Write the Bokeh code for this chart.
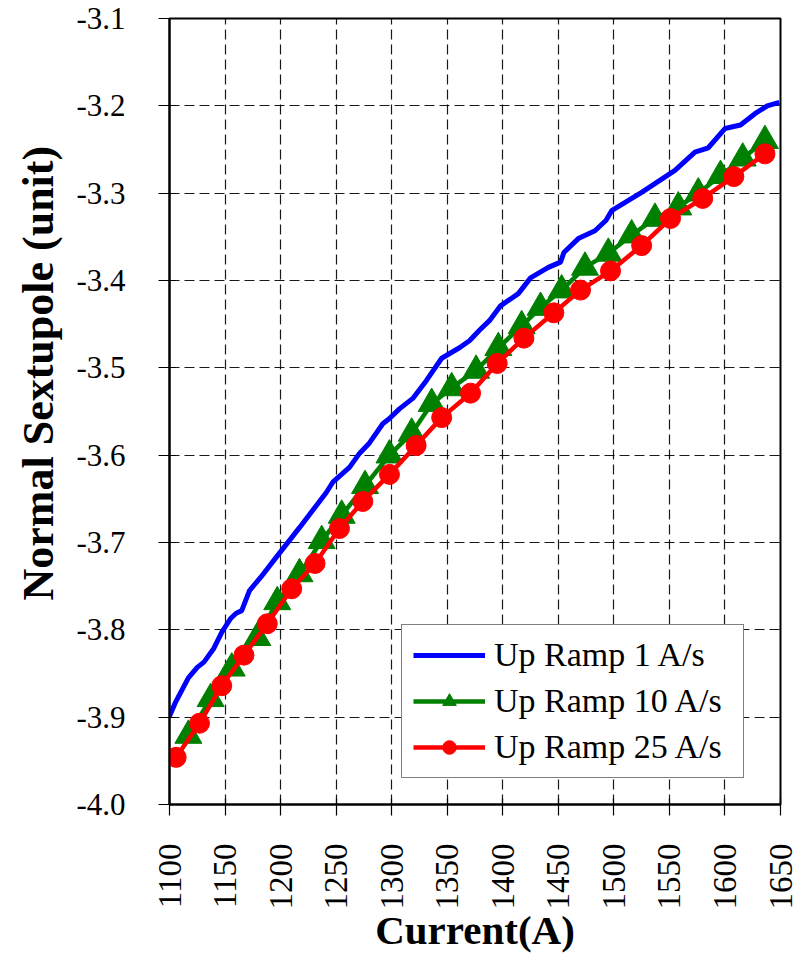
import math
from bokeh.plotting import figure
from bokeh.models import Range1d, FixedTicker, PrintfTickFormatter, Legend, LegendItem, Title
from bokeh.embed import file_html
from bokeh.resources import INLINE

# Up Ramp 1 A/s
ramp1_current = [1100, 1105, 1112, 1117, 1125, 1131, 1140, 1147, 1155, 1160, 1165, 1172,
                 1182, 1196, 1217, 1241, 1247, 1262, 1271, 1280, 1292, 1298, 1307, 1319,
                 1331, 1345, 1361, 1370, 1379, 1388, 1398, 1414, 1425, 1441, 1452, 1455,
                 1468, 1483, 1493, 1498, 1525, 1555, 1573, 1585, 1600, 1614, 1627, 1638, 1649]
ramp1_sext = [-3.899, -3.884, -3.867, -3.855, -3.843, -3.837, -3.821, -3.803, -3.787, -3.781,
              -3.778, -3.755, -3.740, -3.717, -3.683, -3.643, -3.631, -3.614, -3.598, -3.586,
              -3.564, -3.558, -3.547, -3.535, -3.515, -3.489, -3.477, -3.469, -3.457, -3.446,
              -3.429, -3.415, -3.397, -3.385, -3.379, -3.368, -3.352, -3.343, -3.331, -3.320,
              -3.299, -3.274, -3.253, -3.248, -3.226, -3.222, -3.209, -3.200, -3.196]

# Up Ramp 10 A/s
ramp10_current = [1117, 1137, 1156, 1179, 1197, 1217, 1237, 1255, 1276, 1298, 1318, 1336,
                  1354, 1376, 1396, 1417, 1434, 1453, 1474, 1495, 1516, 1537, 1558, 1576,
                  1596, 1616, 1636]
ramp10_sext = [-3.921, -3.879, -3.844, -3.809, -3.768, -3.736, -3.698, -3.669, -3.635, -3.600,
               -3.575, -3.541, -3.523, -3.503, -3.477, -3.452, -3.431, -3.411, -3.385, -3.369,
               -3.348, -3.329, -3.316, -3.300, -3.280, -3.260, -3.240]

# Up Ramp 25 A/s
ramp25_current = [1106, 1127, 1147, 1167, 1188, 1210, 1231, 1253, 1274, 1298, 1322, 1345,
                  1371, 1395, 1419, 1446, 1470, 1497, 1525, 1551, 1580, 1608, 1636]
ramp25_sext = [-3.946, -3.907, -3.864, -3.829, -3.793, -3.753, -3.724, -3.684, -3.653, -3.622,
               -3.589, -3.557, -3.529, -3.495, -3.466, -3.437, -3.411, -3.389, -3.360, -3.329,
               -3.306, -3.281, -3.255]

series_labels = ["Up Ramp 1 A/s", "Up Ramp 10 A/s", "Up Ramp 25 A/s"]
x_ticks = [1100, 1150, 1200, 1250, 1300, 1350, 1400, 1450, 1500, 1550, 1600, 1650]
y_ticks = [-4.0, -3.9, -3.8, -3.7, -3.6, -3.5, -3.4, -3.3, -3.2, -3.1]

FONT = "Liberation Serif"

p = figure(width=799, height=955, output_backend="svg", toolbar_location=None,
           x_range=Range1d(1100, 1650), y_range=Range1d(-4.0, -3.1),
           min_border_left=169, min_border_right=19, min_border_top=18, min_border_bottom=151,
           background_fill_color="white", border_fill_color="white")
p.title.visible = False

p.outline_line_color = "black"
p.outline_line_width = 2
p.outline_line_alpha = 1

for ax in (p.xaxis[0], p.yaxis[0]):
    ax.axis_line_color = "black"
    ax.axis_line_width = 2
    ax.major_tick_line_color = "black"
    ax.major_tick_line_width = 1.2
    ax.major_tick_in = 6
    ax.major_tick_out = 11
    ax.minor_tick_line_color = None
    ax.major_label_text_color = "black"
    ax.major_label_text_font = FONT

p.xaxis.ticker = FixedTicker(ticks=x_ticks)
p.yaxis.ticker = FixedTicker(ticks=y_ticks)
p.yaxis.formatter = PrintfTickFormatter(format="%.1f")
p.xaxis.major_label_orientation = math.pi / 2
p.xaxis.major_label_text_font_size = "33px"
p.yaxis.major_label_text_font_size = "31px"
p.xaxis.major_label_standoff = 28
p.yaxis.major_label_standoff = 33

p.xaxis.axis_label = "Current(A)"
p.xaxis.axis_label_text_font = FONT
p.xaxis.axis_label_text_font_style = "bold"
p.xaxis.axis_label_text_font_size = "41px"
p.xaxis.axis_label_text_color = "black"
p.xaxis.axis_label_standoff = -6

p.add_layout(Title(text="Normal Sextupole  (unit)", align="left", offset=204,
                   text_font=FONT, text_font_size="44px", text_font_style="bold",
                   text_color="black", standoff=22), "left")

for g in (p.xgrid[0], p.ygrid[0]):
    g.grid_line_color = "black"
    g.grid_line_width = 1.2
    g.grid_line_dash = "10 5"
    g.grid_line_alpha = 0.9

r1 = p.line(ramp1_current, ramp1_sext, line_color="#0000FF", line_width=5)
l10 = p.line(ramp10_current, ramp10_sext, line_color="#008000", line_width=4.5)
s10 = p.scatter(ramp10_current, ramp10_sext, marker="triangle", size=27,
                fill_color="#008000", line_color="#008000")
l25 = p.line(ramp25_current, ramp25_sext, line_color="#FF0000", line_width=4.5)
s25 = p.scatter(ramp25_current, ramp25_sext, marker="circle", size=20,
                fill_color="#FF0000", line_color="#FF0000")

legend = Legend(items=[
    LegendItem(label=series_labels[0], renderers=[r1]),
    LegendItem(label=series_labels[1], renderers=[l10, s10]),
    LegendItem(label=series_labels[2], renderers=[l25, s25]),
], location=(232, 26))
legend.label_text_font = FONT
legend.label_text_font_size = "34px"
legend.label_text_color = "black"
legend.border_line_color = "black"
legend.border_line_width = 1.5
legend.background_fill_color = "white"
legend.background_fill_alpha = 1
legend.glyph_width = 72
legend.glyph_height = 34
legend.label_height = 34
legend.label_width = 238
legend.label_standoff = 9
legend.spacing = 8
legend.padding = 11
legend.margin = 0
p.add_layout(legend, "center")

open("out.html", "w").write(file_html(p, INLINE))
